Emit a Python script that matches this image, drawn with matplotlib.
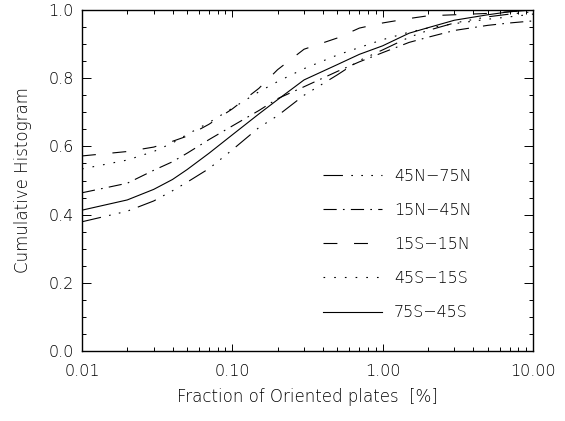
import matplotlib
matplotlib.use("Agg")
import matplotlib.pyplot as plt
from matplotlib.ticker import LogLocator, MultipleLocator, NullFormatter

# fraction of oriented plates [%]
frac = [0.01, 0.02, 0.03, 0.04, 0.05, 0.07, 0.1, 0.15, 0.2, 0.3,
        0.5, 0.7, 1.0, 1.5, 2.0, 3.0, 5.0, 7.0, 10.0]

# cumulative histograms per latitude band
n45_75 = [0.379, 0.410, 0.440, 0.470, 0.495, 0.535, 0.590, 0.655, 0.690, 0.750,
          0.810, 0.852, 0.883, 0.920, 0.940, 0.962, 0.980, 0.988, 0.995]
n15_45 = [0.464, 0.492, 0.530, 0.555, 0.580, 0.620, 0.660, 0.705, 0.740, 0.775,
          0.820, 0.848, 0.875, 0.905, 0.920, 0.940, 0.955, 0.962, 0.968]
s15_n15 = [0.572, 0.585, 0.598, 0.615, 0.630, 0.665, 0.710, 0.770, 0.825, 0.885,
           0.918, 0.947, 0.962, 0.975, 0.983, 0.986, 0.990, 0.995, 1.000]
s45_15 = [0.534, 0.560, 0.585, 0.610, 0.635, 0.670, 0.712, 0.760, 0.790, 0.828,
          0.868, 0.890, 0.913, 0.935, 0.947, 0.960, 0.973, 0.980, 0.988]
s75_45 = [0.413, 0.443, 0.474, 0.503, 0.532, 0.580, 0.634, 0.695, 0.737, 0.795,
          0.840, 0.870, 0.895, 0.932, 0.948, 0.970, 0.986, 0.995, 1.000]

labels = ["45N\u221275N", "15N\u221245N", "15S\u221215N", "45S\u221215S", "75S\u221245S"]
xticks = [0.01, 0.1, 1, 10]
xticklabels = ["0.01", "0.10", "1.00", "10.00"]

plt.rcParams['lines.scale_dashes'] = False
plt.rcParams['font.family'] = 'DejaVu Sans'
plt.rcParams['font.weight'] = 'light'
plt.rcParams['axes.labelweight'] = 'light'

fig = plt.figure(figsize=(5.65, 4.21), dpi=100)
ax = fig.add_axes([82 / 565, 70 / 421, 451 / 565, 341 / 421])

lw = 0.8
h1, = ax.plot(frac, n45_75, color='black', lw=lw, dashes=(14, 6, 1.2, 6, 1.2, 6, 1.2, 6))
h2, = ax.plot(frac, n15_45, color='black', lw=lw, dashes=(9.5, 4.5, 1.2, 4.5))
h3, = ax.plot(frac, s15_n15, color='black', lw=lw, dashes=(10, 12))
h4, = ax.plot(frac, s45_15, color='black', lw=lw, dashes=(1.2, 6.5))
h5, = ax.plot(frac, s75_45, color='black', lw=lw)

ax.set_xscale('log')
ax.set_xlim(0.01, 10)
ax.set_ylim(0, 1)
ax.set_xticks(xticks, xticklabels)
ax.xaxis.set_minor_locator(LogLocator(base=10, subs=range(2, 10)))
ax.xaxis.set_minor_formatter(NullFormatter())
ax.yaxis.set_major_locator(MultipleLocator(0.2))
ax.yaxis.set_minor_locator(MultipleLocator(0.05))
ax.yaxis.set_major_formatter(plt.FormatStrFormatter('%.1f'))

ax.tick_params(axis='both', which='both', direction='in', top=True, right=True,
               width=0.7, labelsize=11.5)
ax.tick_params(axis='x', which='major', length=5, pad=9)
ax.tick_params(axis='x', which='minor', length=2.6)
ax.tick_params(axis='y', which='major', length=6.5, pad=6)
ax.tick_params(axis='y', which='minor', length=3.2)
for s in ax.spines.values():
    s.set_linewidth(1.0)

ax.set_xlabel("Fraction of Oriented plates  [%]", fontsize=12, labelpad=7)
ax.set_ylabel("Cumulative Histogram", fontsize=12, labelpad=12)

ax.legend([h1, h2, h3, h4, h5], labels, loc='upper left',
          bbox_to_anchor=(0.534, 0.535), frameon=False, fontsize=11.5,
          handlelength=3.7, handletextpad=0.75, labelspacing=1.2,
          borderpad=0, borderaxespad=0)

fig.savefig('out.png', dpi=100)
